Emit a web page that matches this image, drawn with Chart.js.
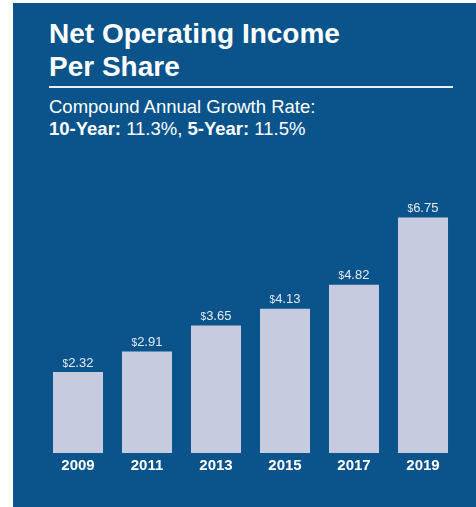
<!DOCTYPE html>
<html>
<head>
<meta charset="utf-8">
<script src="https://cdn.jsdelivr.net/npm/chart.js@4/dist/chart.umd.min.js"></script>
<style>
  html, body { margin: 0; padding: 0; background: #fff; }
  body { width: 476px; height: 507px; position: relative; overflow: hidden;
         font-family: "Liberation Sans", Arial, sans-serif; color: #fff; }
  .panel { position: absolute; left: 13px; top: 3px; right: 0; bottom: 0; background: #0a548b; }
  .title { position: absolute; left: 49px; top: 17px; font-size: 28px; font-weight: bold;
           line-height: 33px; white-space: nowrap; }
  .rule { position: absolute; left: 49px; top: 86px; width: 404px; height: 2px; background: #e9eef5; }
  .sub { position: absolute; left: 49px; top: 96px; font-size: 18.5px; line-height: 22px; white-space: nowrap; }
  .chart-box { position: absolute; left: 0; top: 0; width: 476px; height: 507px; }
</style>
</head>
<body>
<div class="panel"></div>
<div class="title">Net Operating Income<br>Per Share</div>
<div class="rule"></div>
<div class="sub">Compound Annual Growth Rate:<br><b>10-Year:</b> 11.3%, <b>5-Year:</b> 11.5%</div>
<div class="chart-box"><canvas id="noiChart"></canvas></div>

<script>
// Net operating income per share, every other year
const years = ['2009', '2011', '2013', '2015', '2017', '2019'];
const noiPerShare = [2.32, 2.91, 3.65, 4.13, 4.82, 6.75];

// "$" drawn smaller than the amount, on the same baseline
const valueLabels = {
    id: 'valueLabels',
    afterDatasetsDraw(chart) {
        const ctx = chart.ctx;
        const meta = chart.getDatasetMeta(0);
        ctx.save();
        ctx.fillStyle = '#e6eaf3';
        ctx.textBaseline = 'alphabetic';
        meta.data.forEach((bar, i) => {
            const amount = noiPerShare[i].toFixed(2);
            ctx.font = '10px "Liberation Sans", Arial, sans-serif';
            const wDollar = ctx.measureText('$').width;
            ctx.font = '13px "Liberation Sans", Arial, sans-serif';
            const wAmount = ctx.measureText(amount).width;
            const x0 = bar.x - (wDollar + wAmount) / 2;
            const y = bar.y - 5.5;
            ctx.font = '10px "Liberation Sans", Arial, sans-serif';
            ctx.textAlign = 'left';
            ctx.fillText('$', x0, y);
            ctx.font = '13px "Liberation Sans", Arial, sans-serif';
            ctx.fillText(amount, x0 + wDollar, y);
        });
        ctx.restore();
    }
};

new Chart(document.getElementById('noiChart'), {
    type: 'bar',
    data: {
        labels: years,
        datasets: [{
            data: noiPerShare,
            backgroundColor: '#c6cbdf',
            borderWidth: 0,
            barPercentage: 0.725,
            categoryPercentage: 1
        }]
    },
    options: {
        responsive: true,
        maintainAspectRatio: false,
        animation: false,
        layout: { padding: { left: 43.5, right: 18.5, top: 191.25, bottom: 28 } },
        plugins: {
            legend: { display: false },
            tooltip: { enabled: false }
        },
        scales: {
            x: {
                grid: { display: false, drawTicks: false },
                border: { display: false },
                ticks: {
                    color: '#ffffff',
                    padding: 4,
                    font: { family: '"Liberation Sans", Arial, sans-serif', size: 15, weight: 'bold' }
                }
            },
            y: {
                display: false,
                min: 0,
                max: 7.5
            }
        }
    },
    plugins: [valueLabels]
});
</script>
</body>
</html>
